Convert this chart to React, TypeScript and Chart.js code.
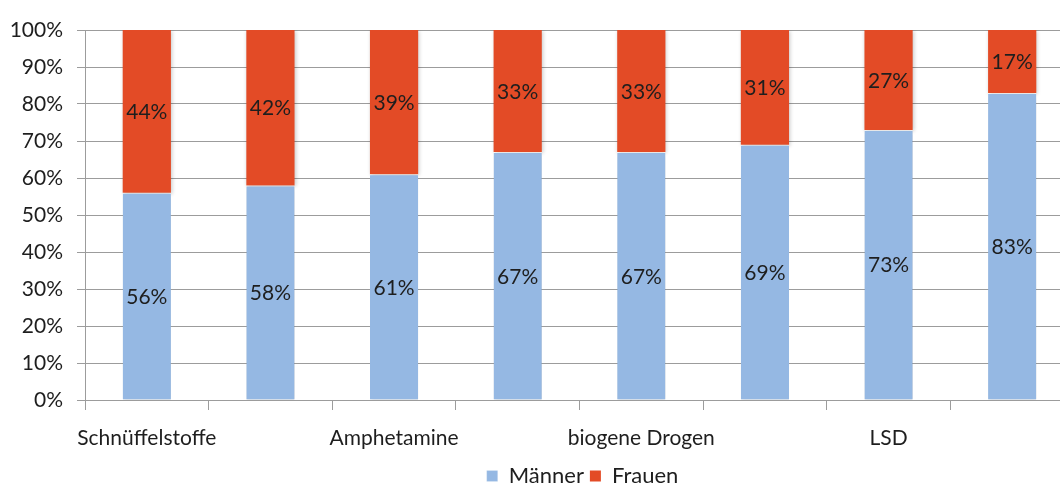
import React, { useEffect, useRef } from "react";
import { Chart, registerables } from "chart.js";

Chart.register(...registerables);

// Categories (only every other label is visible in the original, as in Excel's auto-skip)
const categories = [
  "Schnüffelstoffe",
  "Ecstasy",
  "Amphetamine",
  "Kokain",
  "biogene Drogen",
  "Crack",
  "LSD",
  "Heroin",
];
const tickLabels = ["Schnüffelstoffe", "", "Amphetamine", "", "biogene Drogen", "", "LSD", ""];
const maenner = [56, 58, 61, 67, 67, 69, 73, 83];
const frauen = [44, 42, 39, 33, 33, 31, 27, 17];
const seriesNames = ["Männer", "Frauen"];
const seriesColors = ["#95B8E3", "#E34B26"];
const yMax = 100;
const yStep = 10;

const FONT = "Lato, 'Open Sans', sans-serif";
const FS = 21;
const TEXT = "#1e1e1e";
const GRID = "#9c9c9c";

const shadowPlugin = {
  id: "barShadow",
  beforeDatasetsDraw(chart: any) {
    const ctx = chart.ctx;
    ctx.save();
    ctx.shadowColor = "rgba(0,0,0,0.22)";
    ctx.shadowBlur = 4;
    ctx.shadowOffsetX = 1;
    ctx.shadowOffsetY = 1;
  },
  afterDatasetsDraw(chart: any) {
    chart.ctx.restore();
  },
};

const labelPlugin = {
  id: "segLabels",
  afterDatasetsDraw(chart: any) {
    const ctx = chart.ctx;
    ctx.save();
    ctx.font = `${FS}px ${FONT}`;
    ctx.fillStyle = TEXT;
    ctx.textAlign = "center";
    ctx.textBaseline = "middle";
    chart.data.datasets.forEach((ds: any, i: number) => {
      const meta = chart.getDatasetMeta(i);
      meta.data.forEach((bar: any, j: number) => {
        const { x, y, base } = bar.getProps(["x", "y", "base"], true);
        ctx.fillText(ds.data[j] + "%", x, (y + base) / 2 + 1);
      });
    });
    ctx.restore();
  },
};

const legendShift = {
  id: "legendShift",
  afterLayout(chart: any) {
    const lg = chart.legend;
    if (!lg) return;
    const dx = 3;
    const dy = 9;
    lg.left += dx;
    lg.right += dx;
    lg.top += dy;
    lg.bottom += dy;
  },
};

export default function App() {
  const ref = useRef<HTMLCanvasElement | null>(null);

  useEffect(() => {
    document.body.style.margin = "0";
    const canvas = ref.current;
    if (!canvas) return;
    const chart = new Chart(canvas, {
      type: "bar",
      data: {
        labels: categories,
        datasets: [
          {
            label: seriesNames[0],
            data: maenner,
            backgroundColor: seriesColors[0],
            borderColor: "rgba(255,255,255,0.7)",
            borderWidth: { top: 1 },
            borderSkipped: false,
            barPercentage: 0.39,
            categoryPercentage: 1,
          },
          {
            label: seriesNames[1],
            data: frauen,
            backgroundColor: seriesColors[1],
            borderWidth: 0,
            barPercentage: 0.39,
            categoryPercentage: 1,
          },
        ],
      },
      options: {
        animation: false,
        responsive: true,
        maintainAspectRatio: false,
        layout: { padding: { top: 30, left: 0, right: 0, bottom: 0 } },
        plugins: {
          legend: {
            position: "bottom",
            fullSize: false,
            labels: {
              boxWidth: 11,
              boxHeight: 11,
              padding: 6,
              color: TEXT,
              font: { family: FONT, size: 22 },
            },
          },
          tooltip: { enabled: false },
        },
        scales: {
          x: {
            stacked: true,
            afterFit: (s: any) => {
              s.height = 50;
            },
            grid: {
              offset: true,
              drawOnChartArea: false,
              drawTicks: true,
              tickLength: 10,
              color: GRID,
            },
            border: { color: GRID, width: 1 },
            ticks: {
              autoSkip: false,
              maxRotation: 0,
              minRotation: 0,
              padding: 16,
              color: TEXT,
              font: { family: FONT, size: FS },
              callback: (_v: any, i: number) => tickLabels[i],
            },
          },
          y: {
            stacked: true,
            min: 0,
            max: yMax,
            afterFit: (s: any) => {
              s.width = 85;
            },
            grid: {
              color: GRID,
              drawTicks: true,
              tickLength: 8,
            },
            border: { color: GRID, width: 1 },
            ticks: {
              stepSize: yStep,
              padding: 14,
              color: TEXT,
              font: { family: FONT, size: FS },
              callback: (v: any) => v + "%",
            },
          },
        },
      },
      plugins: [shadowPlugin, labelPlugin, legendShift],
    });
    return () => chart.destroy();
  }, []);

  return (
    <div
      style={{
        position: "fixed",
        left: 0,
        top: 0,
        width: 1060,
        height: 488,
        overflow: "hidden",
        background: "#fff",
      }}
    >
      <div style={{ position: "relative", width: 1074, height: 488 }}>
        <canvas ref={ref} />
      </div>
    </div>
  );
}
